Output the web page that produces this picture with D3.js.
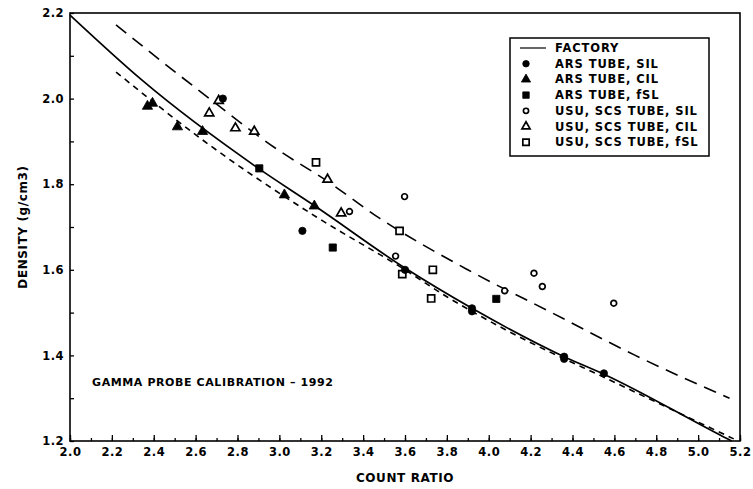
<!DOCTYPE html>
<html>
<head>
    <title>Gamma probe calibration</title>
    <style>
        body, html { margin: 0; padding: 0; background: #fff; overflow: hidden; }
        svg text { font-family: "DejaVu Sans", sans-serif; font-weight: bold; fill: #000; }
    </style>
    <script src="https://d3js.org/d3.v7.min.js"></script>
</head>
<body>
<svg id="chart" width="753" height="489"></svg>
<script>
// curves: [count ratio, density]
const factoryLine = [[2.0, 2.195], [2.344, 2.043], [2.9, 1.837], [3.17, 1.749], [3.6, 1.604],
    [3.92, 1.51], [4.36, 1.397], [4.55, 1.356], [5.12, 1.21], [5.16, 1.2]];
const upperLine = [[2.22, 2.172], [2.6, 2.025], [3.0, 1.878], [3.22, 1.81], [3.48, 1.72],
    [3.9, 1.60], [4.3, 1.50], [4.7, 1.40], [5.15, 1.30]];
const lowerLine = [[2.22, 2.062], [2.665, 1.892], [3.175, 1.724], [3.6, 1.60], [3.8, 1.537],
    [4.08, 1.46], [4.61, 1.335], [5.17, 1.205]];

// measured points
const arsSIL = [[2.73, 2.0], [3.11, 1.691], [3.6, 1.60], [3.92, 1.51], [3.92, 1.503],
    [4.36, 1.397], [4.36, 1.392], [4.55, 1.358]];
const arsCIL = [[2.37, 1.982], [2.394, 1.989], [2.513, 1.934], [2.633, 1.923], [3.024, 1.775], [3.167, 1.749]];
const arsFSL = [[2.904, 1.837], [3.255, 1.652], [4.036, 1.532]];
const usuSIL = [[3.335, 1.736], [3.598, 1.771], [3.555, 1.632], [4.216, 1.592], [4.256, 1.561],
    [4.076, 1.551], [4.597, 1.522]];
const usuCIL = [[2.665, 1.966], [2.71, 1.995], [2.79, 1.931], [2.88, 1.923], [3.23, 1.811], [3.295, 1.732]];
const usuFSL = [[3.175, 1.851], [3.574, 1.691], [3.733, 1.60], [3.587, 1.59], [3.725, 1.533]];

const xTicks = d3.range(2.0, 5.21, 0.2);
const yTicks = [1.2, 1.4, 1.6, 1.8, 2.0, 2.2];

const legendItems = [
    ['line', 'FACTORY'],
    ['circleF', 'ARS TUBE, SIL'],
    ['triF', 'ARS TUBE, CIL'],
    ['squareF', 'ARS TUBE, fSL'],
    ['circleO', 'USU, SCS TUBE, SIL'],
    ['triO', 'USU, SCS TUBE, CIL'],
    ['squareO', 'USU, SCS TUBE, fSL']
];

const svg = d3.select('#chart');
const x = d3.scaleLinear().domain([2.0, 5.2]).range([70, 740]);
const y = d3.scaleLinear().domain([1.2, 2.2]).range([441, 13]);

// frame
svg.append('rect')
    .attr('x', 70).attr('y', 13).attr('width', 670).attr('height', 428)
    .attr('fill', 'none').attr('stroke', '#000').attr('stroke-width', 1.6);

// bottom axis, ticks pointing inward
const xAxis = svg.append('g').attr('transform', 'translate(0,441)')
    .call(d3.axisBottom(x).tickValues(d3.range(2.0, 5.21, 0.1)).tickSize(-3).tickFormat(''));
xAxis.select('.domain').remove();
xAxis.selectAll('.tick line').attr('stroke-width', 1.3);
svg.append('g').attr('transform', 'translate(0,441)')
    .call(d3.axisBottom(x).tickValues(xTicks).tickSize(-6).tickPadding(5).tickFormat(d3.format('.1f')))
    .call(g => g.select('.domain').remove())
    .call(g => g.selectAll('.tick line').attr('stroke-width', 1.3))
    .call(g => g.selectAll('text').attr('font-size', 11.5).attr('letter-spacing', 0.5).attr('dy', '0.9em'));

// left axis
const yAxis = svg.append('g').attr('transform', 'translate(70,0)')
    .call(d3.axisLeft(y).tickValues(d3.range(1.2, 2.21, 0.1)).tickSize(-4).tickFormat(''));
yAxis.select('.domain').remove();
yAxis.selectAll('.tick line').attr('stroke-width', 1.3);
svg.append('g').attr('transform', 'translate(70,0)')
    .call(d3.axisLeft(y).tickValues(yTicks).tickSize(0).tickPadding(6).tickFormat(d3.format('.1f')))
    .call(g => g.select('.domain').remove())
    .call(g => g.selectAll('text').attr('font-size', 11.5).attr('letter-spacing', 0.5));

// axis titles
svg.append('text').attr('x', 405).attr('y', 482).attr('text-anchor', 'middle')
    .attr('font-size', 12).attr('letter-spacing', 0.6).text('COUNT RATIO');
svg.append('text').attr('transform', 'translate(27,227) rotate(-90)').attr('text-anchor', 'middle')
    .attr('font-size', 12).attr('letter-spacing', 0.6).text('DENSITY (g/cm3)');

// curves
const line = d3.line().x(d => x(d[0])).y(d => y(d[1])).curve(d3.curveMonotoneX);
svg.append('path').datum(factoryLine).attr('d', line)
    .attr('fill', 'none').attr('stroke', '#000').attr('stroke-width', 1.7);
svg.append('path').datum(upperLine).attr('d', line)
    .attr('fill', 'none').attr('stroke', '#000').attr('stroke-width', 1.6).attr('stroke-dasharray', '13,8');
svg.append('path').datum(lowerLine).attr('d', line)
    .attr('fill', 'none').attr('stroke', '#000').attr('stroke-width', 1.6).attr('stroke-dasharray', '6,5');

// markers
function marker(sel, kind, scale = 1) {
    const filled = kind.endsWith('F');
    let shape, size;
    if (kind.startsWith('circle')) { shape = d3.symbolCircle; size = filled ? 42 : 26; }
    else if (kind.startsWith('tri')) { shape = d3.symbolTriangle; size = filled ? 46 : 36; }
    else { shape = d3.symbolSquare; size = filled ? 52 : 50; }
    sel.attr('d', d3.symbol().type(shape).size(size * scale))
        .attr('fill', filled ? '#000' : '#fff')
        .attr('stroke', '#000')
        .attr('stroke-width', filled ? 0.8 : 1.7);
}

const groups = [[usuSIL, 'circleO'], [usuCIL, 'triO'], [usuFSL, 'squareO'],
    [arsSIL, 'circleF'], [arsCIL, 'triF'], [arsFSL, 'squareF']];
groups.forEach(([data, kind]) => {
    svg.append('g').selectAll('path').data(data).enter().append('path')
        .attr('transform', d => `translate(${x(d[0])},${y(d[1])})`)
        .call(marker, kind);
});

// annotation
svg.append('text').attr('x', 92).attr('y', 386).attr('font-size', 11).attr('letter-spacing', 0.6)
    .text('GAMMA PROBE CALIBRATION \u2013 1992');

// legend
const lg = svg.append('g').attr('transform', 'translate(510,38)');
lg.append('rect').attr('width', 199).attr('height', 118)
    .attr('fill', '#fff').attr('stroke', '#000').attr('stroke-width', 1.5);
const rows = lg.selectAll('g.row').data(legendItems).enter().append('g')
    .attr('transform', (d, i) => `translate(0,${10 + i * 15.7})`);
rows.each(function(d) {
    const r = d3.select(this);
    if (d[0] === 'line') {
        r.append('line').attr('x1', 10).attr('x2', 36).attr('y1', 0).attr('y2', 0)
            .attr('stroke', '#000').attr('stroke-width', 1.2);
    } else {
        r.append('path').attr('transform', 'translate(16,0)').call(marker, d[0], 0.8);
    }
    r.append('text').attr('x', 45).attr('y', 4).attr('font-size', 11.5).attr('letter-spacing', 0.9).text(d[1]);
});
</script>
</body>
</html>
